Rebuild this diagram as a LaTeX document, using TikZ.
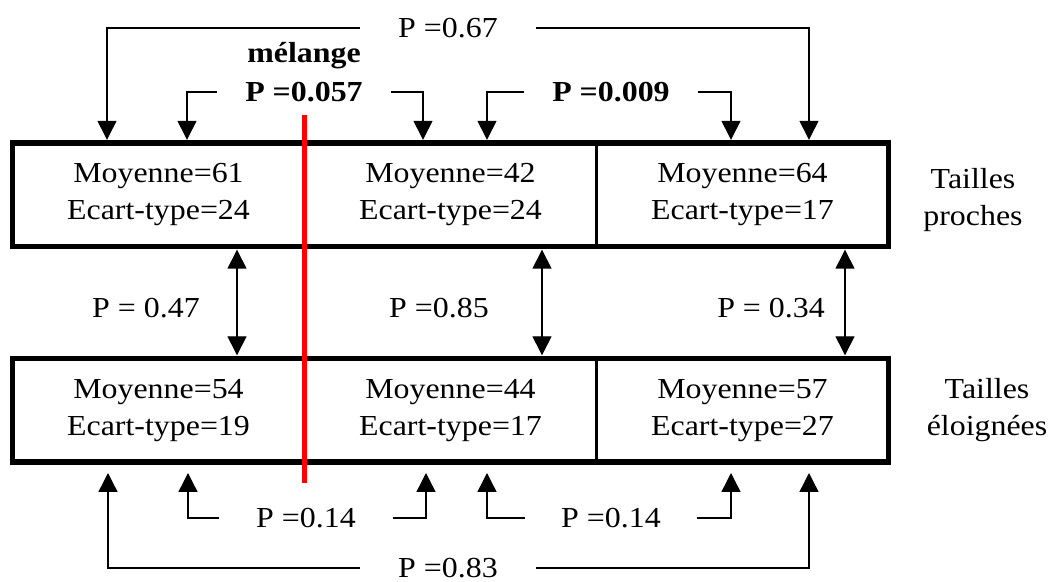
\documentclass[tikz,border=0pt]{standalone}
\usepackage{fontspec}
\setmainfont[FakeStretch=1.1]{Liberation Serif}
\usetikzlibrary{arrows.meta,calc,positioning}
\definecolor{MixRed}{HTML}{FF0000}

\begin{document}
\begin{tikzpicture}[
  x=0.5pt, y=-0.5pt,
  cellbox/.style={
    inner sep=0pt,
    outer sep=0pt,
    align=center,
    minimum width=146pt,
    minimum height=51.75pt,
    font=\fontsize{14.5}{18.5}\selectfont
  },
  boxframe/.style={line width=2.8pt},
  divider/.style={line width=1.2pt},
  pval/.style={inner ysep=0pt, font=\fontsize{14.5}{18}\selectfont},
  pbold/.style={pval, font=\fontsize{14.5}{18}\selectfont\bfseries},
  sidelabel/.style={align=center, inner sep=0pt, font=\fontsize{14.5}{18.3}\selectfont},
  flowarrow/.style={-{Triangle[length=9.5pt,width=9.5pt]}, line width=0.7pt, shorten >=1.6pt},
  upflow/.style={flowarrow, shorten >=5.5pt},
  dblarrow/.style={{Triangle[length=9.5pt,width=9.5pt]}-{Triangle[length=9.5pt,width=9.5pt]}, line width=0.7pt, shorten >=1.6pt, shorten <=1.6pt},
  redline/.style={draw=MixRed, line width=2.6pt}
]
\useasboundingbox (0,0) rectangle (1051,582);
\node[cellbox] (proche1) at (158.5,194.75) {Moyenne=61\\Ecart-type=24};
\node[cellbox, right=0pt of proche1] (proche2) {Moyenne=42\\Ecart-type=24};
\node[cellbox, right=0pt of proche2] (proche3) {Moyenne=64\\Ecart-type=17};
\node[cellbox, below=56pt of proche1] (loin1) {Moyenne=54\\Ecart-type=19};
\node[cellbox, right=0pt of loin1] (loin2) {Moyenne=44\\Ecart-type=17};
\node[cellbox, right=0pt of loin2] (loin3) {Moyenne=57\\Ecart-type=27};
\draw[divider] (proche1.north east) -- (proche1.south east);
\draw[divider] (proche2.north east) -- (proche2.south east);
\draw[divider] (loin1.north east) -- (loin1.south east);
\draw[divider] (loin2.north east) -- (loin2.south east);
\draw[boxframe] (proche1.north west) rectangle (proche3.south east);
\draw[boxframe] (loin1.north west) rectangle (loin3.south east);
\node[sidelabel] (proches) at (973,200) {Tailles\\proches};
\node[sidelabel] (eloignees) at (987,410) {Tailles\\éloignées};
\node[pval, inner xsep=19pt] (p67) at (448,28) {P =0.67};
\node[pbold, anchor=base] (melange) at (304,63) {mélange};
\node[pbold, inner xsep=14pt] (p057) at (304,92) {P =0.057};
\node[pbold, inner xsep=14pt] (p009) at (611,92) {P =0.009};
\node[pval] (p47) at (146,308) {P = 0.47};
\node[pval] (p85) at (439,308) {P =0.85};
\node[pval] (p34) at (771,308) {P = 0.34};
\node[pval, inner xsep=18.5pt] (p14a) at (306,518) {P =0.14};
\node[pval, inner xsep=18pt] (p14b) at (611,518) {P =0.14};
\node[pval, inner xsep=19pt] (p83) at (448,568) {P =0.83};
\draw[flowarrow] (p67.west) -| ($(proche1.north)+(-51.5,0)$);
\draw[flowarrow] (p67.east) -| ($(proche3.north)+(66.5,0)$);
\draw[flowarrow] (p057.west) -| ($(proche1.north)+(28.5,0)$);
\draw[flowarrow] (p057.east) -| ($(proche2.north)+(-27.5,0)$);
\draw[flowarrow] (p009.west) -| ($(proche2.north)+(36.5,0)$);
\draw[flowarrow] (p009.east) -| ($(proche3.north)+(-11.5,0)$);
\draw[dblarrow] ($(proche1.south)+(78.5,0)$) -- ($(loin1.north)+(78.5,0)$);
\draw[dblarrow] ($(proche2.south)+(91.5,0)$) -- ($(loin2.north)+(91.5,0)$);
\draw[dblarrow] ($(proche3.south)+(102.5,0)$) -- ($(loin3.north)+(102.5,0)$);
\draw[upflow] (p14a.west) -| ($(loin1.south)+(29.5,0)$);
\draw[upflow] (p14a.east) -| ($(loin2.south)+(-24.5,0)$);
\draw[upflow] (p14b.west) -| ($(loin2.south)+(36.5,0)$);
\draw[upflow] (p14b.east) -| ($(loin3.south)+(-11.5,0)$);
\draw[upflow] (p83.west) -| ($(loin1.south)+(-50.5,0)$);
\draw[upflow] (p83.east) -| ($(loin3.south)+(66.5,0)$);
\draw[redline] ($(proche1.north east)+(0,-28)$) -- ($(loin1.south east)+(0,21)$);
\end{tikzpicture}
\end{document}
